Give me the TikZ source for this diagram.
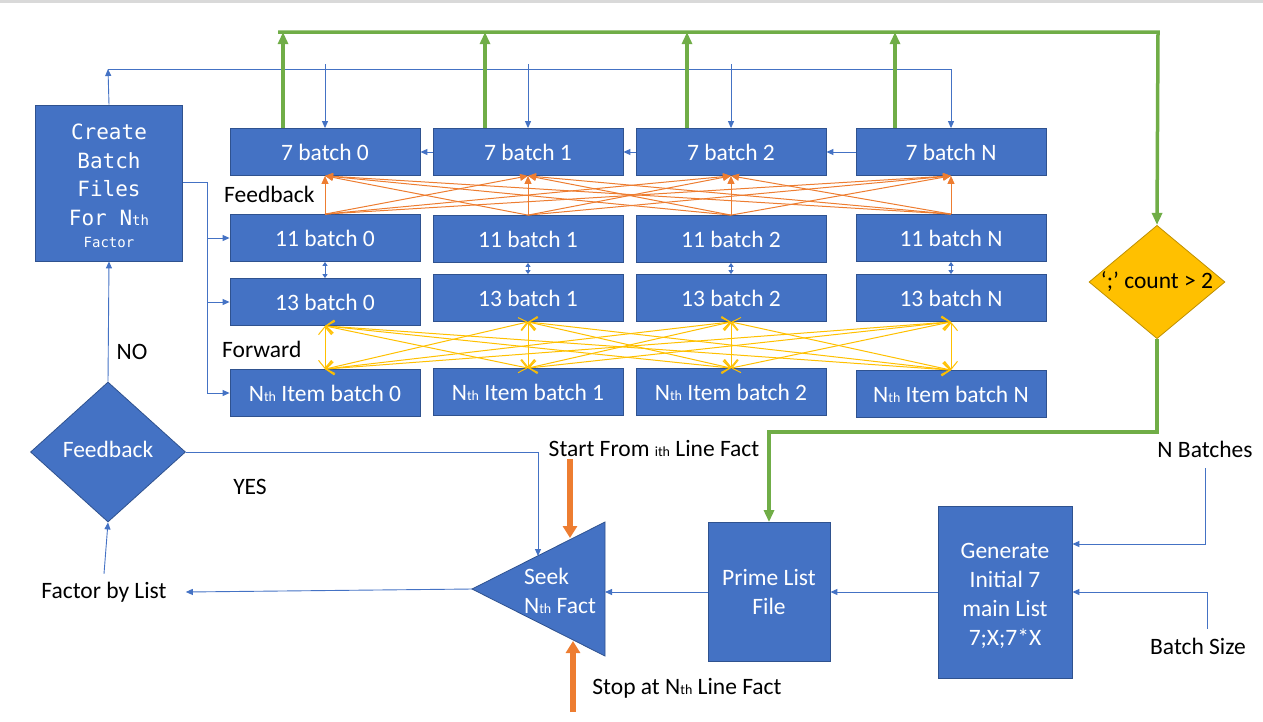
\documentclass[tikz,border=0pt]{standalone}
\usepackage{fontspec}
\setmainfont{Carlito}
\newfontfamily\monofont{DejaVu Sans Mono}
\usepackage{xcolor}
\usetikzlibrary{shapes.geometric, arrows.meta, positioning, calc}

\definecolor{boxblue}{HTML}{4472C4}
\definecolor{boxedge}{HTML}{2F528F}
\definecolor{lgreen}{HTML}{70AD47}
\definecolor{lorange}{HTML}{ED7D31}
\definecolor{dorange}{HTML}{AE5A21}
\definecolor{lyellow}{HTML}{FFC000}
\definecolor{yedge}{HTML}{BF9000}

\newcommand{\smallth}[1]{{\fontsize{14}{14}\selectfont #1}}

\tikzset{
    box/.style={draw=boxedge, line width=0.8pt, fill=boxblue, text=white,
        font=\fontsize{23.5}{29}\selectfont, align=center, inner sep=0pt},
    batch/.style={box, minimum width=190pt, minimum height=47pt},
    lbl/.style={font=\fontsize{23.5}{29}\selectfont, inner sep=3pt},
    line/.style={boxblue, line width=0.9pt, -{Triangle[length=7pt,width=6pt]}},
    link/.style={boxblue, line width=0.8pt, {Triangle[length=4pt,width=5pt]}-{Triangle[length=4pt,width=5pt]}},
    fbline/.style={lorange, line width=1pt, -{Triangle[length=8pt,width=7pt]}},
    fwline/.style={lyellow, line width=1pt, {Straight Barb[length=8pt,width=13pt]}-{Straight Barb[length=8pt,width=13pt]}},
    gline/.style={lgreen, line width=3.5pt, -{Triangle[length=12pt,width=10pt]}},
    bigarrow/.style={lorange, line width=6pt, -{Triangle[length=12pt,width=14pt]}}
}

\begin{document}
\begin{tikzpicture}[x=1pt, y=-1pt]
    \useasboundingbox (0,0) rectangle (1263,721);
    \draw[black!15, line width=3pt] (0,1) -- (1263,1);

    % batch grid
    \foreach \i/\x/\lab/\ya/\yb/\yc in {0/325/0/238/302/393, 1/528/1/239/298/392, 2/731/2/239/298/392, 3/951/N/238/298/394}{
        \node[batch] at (\x,152) (seven\i) {7 batch \lab};
        \node[batch] at (\x,\ya) (eleven\i) {11 batch \lab};
        \node[batch] at (\x,\yb) (thirteen\i) {13 batch \lab};
        \node[batch] at (\x,\yc) (nth\i) {N\smallth{th} Item batch \lab};
    }

    \foreach \i in {0,...,3}{
        \foreach \j in {0,...,3}{
            \draw[fbline] (eleven\i.north) -- (seven\j.south);
            \draw[fwline] (thirteen\i.south) -- (nth\j.north);
        }
        \draw[link] (eleven\i.south) -- (thirteen\i.north);
    }

    \draw[line] (seven3.west) -- (seven2.east);
    \draw[line] (seven2.west) -- (seven1.east);
    \draw[line] (seven1.west) -- (seven0.east);

    \node[lbl, anchor=west] at (221,194) (fbtext) {Feedback};
    \node[lbl, anchor=west] at (219,349) (fwtext) {Forward};

    % left column
    \node[box, font=\monofont\fontsize{21}{28.5}\selectfont, minimum width=147pt, minimum height=156pt] at (109,183) (create)
        {\rule{0pt}{22pt}Create\\Batch\\Files\\For N\smallth{th}\\[-6pt]\smallth{Factor}};
    \node[box, diamond, aspect=1.1, minimum width=155pt, minimum height=140pt] at (108,452) (feed) {Feedback\rule[-6pt]{0pt}{6pt}};
    \node[lbl] at (132,352) (no) {NO};
    \node[lbl] at (250,487) (yes) {YES};
    \node[lbl] at (104,592) (factor) {Factor by List};

    \coordinate (bus) at (207,182);
    \draw[line] (create.east |- bus) -- (bus) |- (nth0.west);
    \draw[line] (bus |- eleven0.west) -- (eleven0.west);
    \draw[line] (bus |- thirteen0.west) -- (thirteen0.west);

    \coordinate (topbus) at (108,69);
    \draw[line] (create.north) -- (topbus);
    \draw[line] (topbus) -| (seven3.north);
    \foreach \i in {0,1,2}
        \draw[line] ([yshift=64pt]seven\i.north) -- (seven\i.north);

    % green loop
    \node[diamond, draw=yedge, line width=0.8pt, fill=lyellow, aspect=1.2, minimum width=135pt, minimum height=112pt,
        inner sep=0pt, font=\fontsize{23.5}{29}\selectfont] at (1157,282) (count) {‘;’ count > 2};
    \coordinate (gleft) at (278,32);
    \coordinate (gright) at (1158,32);
    \draw[gline] (gleft) -- (gright) -- (count.north);
    \foreach \i/\dx in {0/-42,1/-43,2/-44,3/-56}
        \draw[gline] ([xshift=\dx pt]seven\i.north) -- ++(0,-96);

    % bottom row
    \node[box, minimum width=122pt, minimum height=139pt] at (769,592) (prime) {Prime List\\File};
    \node[box, minimum width=134pt, minimum height=172pt] at (1005,592) (gen) {\rule{0pt}{23pt}Generate\\Initial 7\\main List\\7;X;7*X};
    \coordinate (gmid) at (prime.north |- 0,432);
    \draw[gline] (count.south) |- (gmid) -- (prime.north);

    \fill[boxblue, draw=boxedge, line width=0.8pt] (472,589) coordinate (seektip) -- (605,522) -- (605,656) -- cycle;
    \node[text=white, font=\fontsize{23.5}{29}\selectfont, align=left] at (560,591) (seek) {Seek\\N\smallth{th} Fact};
    \coordinate (seekin) at (538,556);
    \coordinate (seekright) at (605,592);
    \coordinate (seekup) at (570,538);
    \coordinate (seekdown) at (573,641);
    \coordinate (stopin) at (573,712);

    \node[lbl] at (654,448) (start) {Start From \smallth{ith} Line Fact};
    \node[lbl] at (687,688) (stop) {Stop at N\smallth{th} Line Fact};
    \node[lbl] at (1205,449) (nbatch) {N Batches};
    \node[lbl] at (1198,646) (bsize) {Batch Size};

    \draw[bigarrow] (start.south -| seekup) -- (seekup);
    \draw[bigarrow] (stopin) -- (seekdown);

    \draw[line] (feed.north) -- (create.south);
    \draw[line] ([yshift=5pt]factor.north) -- (feed.south);
    \draw[line] (seektip) -- ([xshift=16pt]factor.east);
    \draw[line] (feed.east) -| (seekin);
    \draw[line] (prime.west) -- (seekright);
    \draw[line] (gen.west) -- (prime.east);
    \draw[line] ([yshift=-8pt]nbatch.south) |- ([yshift=48pt]gen.east);
    \draw[line] ([xshift=9pt,yshift=6pt]bsize.north) |- (gen.east);
\end{tikzpicture}
\end{document}
